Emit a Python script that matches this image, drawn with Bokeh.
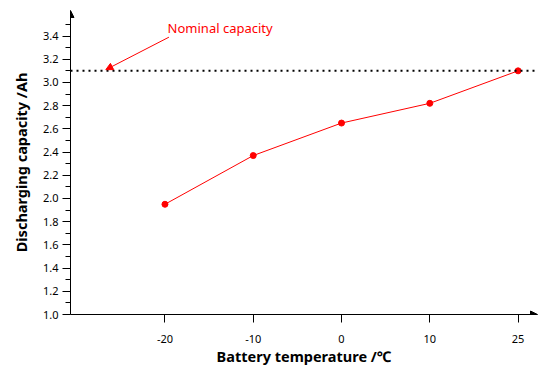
from bokeh.plotting import figure
from bokeh.models import Range1d, FixedTicker, Span, Arrow, NormalHead, Label
from bokeh.embed import file_html
from bokeh.resources import INLINE

temps = ["-20", "-10", "0", "10", "25"]
capacity = [1.95, 2.37, 2.65, 2.82, 3.10]
nominal = 3.10
y_ticks = [1.0, 1.2, 1.4, 1.6, 1.8, 2.0, 2.2, 2.4, 2.6, 2.8, 3.0, 3.2, 3.4]
y_minor = [1.1, 1.3, 1.5, 1.7, 1.9, 2.1, 2.3, 2.5, 2.7, 2.9, 3.1, 3.3, 3.5]

xs = list(range(len(temps)))
FONT = "Noto Sans"

p = figure(width=541, height=368, output_backend="svg", toolbar_location=None,
           x_range=Range1d(-1.07, 4.22), y_range=Range1d(1.0, 3.62),
           min_border_left=70, min_border_bottom=53, min_border_top=10, min_border_right=4)
p.outline_line_color = None
p.grid.visible = False
p.border_fill_color = "white"

p.xaxis.ticker = FixedTicker(ticks=xs)
p.xaxis.major_label_overrides = {i: t for i, t in zip(xs, temps)}
p.xaxis.major_tick_in = 0
p.xaxis.major_tick_out = 8
p.xaxis.major_label_standoff = 12
p.xaxis.axis_label = "Battery temperature /℃"

p.yaxis.ticker = FixedTicker(ticks=y_ticks, minor_ticks=y_minor)
p.yaxis.major_label_overrides = {t: f"{t:.1f}" for t in y_ticks}
p.yaxis.major_tick_in = 0
p.yaxis.major_tick_out = 8
p.yaxis.minor_tick_in = 0
p.yaxis.minor_tick_out = 5
p.yaxis.major_label_standoff = 4
p.yaxis.axis_label = "Discharging capacity /Ah"

for ax in (p.xaxis, p.yaxis):
    ax.axis_line_color = "black"
    ax.major_tick_line_color = "black"
    ax.major_label_text_font = FONT
    ax.major_label_text_font_size = "11px"
    ax.major_label_text_color = "black"
    ax.axis_label_text_font = FONT
    ax.axis_label_text_font_size = "14.5px"
    ax.axis_label_text_font_style = "bold"
    ax.axis_label_text_color = "black"
p.xaxis.minor_tick_line_color = None
p.yaxis.minor_tick_line_color = "black"
p.xaxis.axis_label_standoff = 0
p.yaxis.axis_label_standoff = 9

# axis arrowheads
p.add_layout(Arrow(end=NormalHead(size=7, fill_color="black", line_color="black"),
                   x_start=4.0, y_start=1.0, x_end=4.22, y_end=1.0, line_color="black", line_width=1))
p.add_layout(Arrow(end=NormalHead(size=7, fill_color="black", line_color="black"),
                   x_start=-1.07, y_start=3.4, x_end=-1.07, y_end=3.62, line_color="black", line_width=1))

# nominal line
p.add_layout(Span(location=nominal, dimension="width", line_color="black",
                  line_dash="dotted", line_width=2))

p.line(xs, capacity, line_color="red", line_width=1)
p.scatter(xs, capacity, size=6, fill_color="red", line_color="red")

# annotation
p.add_layout(Arrow(end=NormalHead(size=7, fill_color="red", line_color="red"),
                   x_start=0.045, y_start=3.39, x_end=-0.67, y_end=3.11,
                   line_color="red", line_width=1))
p.add_layout(Label(x=0.03, y=3.47, text="Nominal capacity", text_color="red",
                   text_font=FONT, text_font_size="13px", text_baseline="middle"))

open("out.html", "w").write(file_html(p, INLINE))
